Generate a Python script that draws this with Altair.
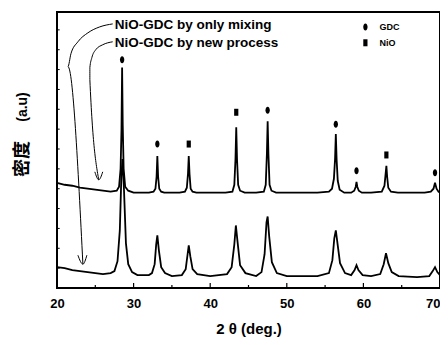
import altair as alt
import pandas as pd

# ---- XRD pattern: NiO-GDC by only mixing (upper trace) ----
upper_x = [20, 21, 22, 23, 24, 25, 26, 27, 27.8, 28.1, 28.3, 28.42, 28.5, 28.58, 28.7, 28.9, 29.3,
           30, 31, 32, 32.6, 32.85, 33.0, 33.1, 33.2, 33.35, 33.6, 34, 35, 36,
           36.7, 36.95, 37.1, 37.2, 37.3, 37.45, 37.7, 38.2, 40, 42,
           42.9, 43.15, 43.3, 43.4, 43.5, 43.65, 43.9, 44.5, 46,
           47.0, 47.25, 47.4, 47.5, 47.6, 47.75, 48.0, 48.6, 50, 52, 54,
           55.5, 55.9, 56.15, 56.3, 56.4, 56.5, 56.65, 56.9, 57.5,
           58.4, 58.8, 59.0, 59.1, 59.2, 59.4, 59.8, 61,
           62.4, 62.75, 62.9, 63.0, 63.1, 63.25, 63.6, 64.5, 66, 68,
           68.8, 69.15, 69.35, 69.55, 69.8, 70]
upper_y = [106, 104, 103, 101, 100, 99, 98, 97, 98, 102, 120, 160, 222, 165, 120, 102, 98,
           96, 96, 96, 97, 100, 112, 133, 112, 100, 97, 96, 96, 96,
           97, 101, 115, 133, 115, 100, 97, 96, 96, 96,
           97, 104, 130, 162, 130, 104, 98, 96, 96,
           97, 104, 135, 168, 135, 104, 98, 96, 96, 96, 96,
           97, 100, 110, 130, 155, 130, 108, 99, 96,
           96, 98, 102, 107, 102, 98, 96, 96,
           97, 103, 115, 123, 112, 101, 97, 96, 96, 96,
           97, 100, 106, 100, 97, 96]

# ---- XRD pattern: NiO-GDC by new process (lower trace) ----
lower_x = [20, 21, 22, 23, 24, 25, 26, 27, 27.5, 27.9, 28.2, 28.4, 28.55, 28.75, 29.0, 29.3, 29.8,
           30.5, 32, 32.4, 32.75, 32.95, 33.1, 33.3, 33.6, 34.1, 35,
           36.3, 36.8, 37.05, 37.2, 37.4, 37.7, 38.3, 40,
           42.2, 42.8, 43.15, 43.35, 43.55, 43.9, 44.6, 46,
           46.7, 47.1, 47.35, 47.5, 47.7, 48.05, 48.7, 50, 54,
           55.5, 55.95, 56.2, 56.4, 56.6, 56.95, 57.6,
           58.4, 58.85, 59.1, 59.35, 59.9, 61,
           62.2, 62.65, 62.95, 63.25, 63.7, 64.6, 67,
           68.6, 69.05, 69.35, 69.65, 70]
lower_y = [21, 20, 18, 17, 16, 15, 14, 15, 17, 27, 58, 112, 130, 98, 45, 24, 16,
           13, 13, 15, 24, 44, 53, 38, 21, 15, 12,
           13, 19, 34, 43, 32, 19, 14, 12,
           14, 21, 44, 63, 48, 23, 15, 12,
           16, 34, 66, 72, 52, 26, 15, 12, 12,
           15, 28, 50, 58, 46, 25, 15,
           13, 18, 23, 18, 13, 12,
           14, 24, 35, 25, 16, 12, 11,
           12, 17, 21, 16, 13]

# ---- phase markers above the upper trace ----
marker_x = [28.5, 33.1, 37.2, 43.4, 47.5, 56.4, 59.1, 63.0, 69.35, 60.26, 60.26]
marker_y = [230, 145, 145, 177, 179, 165, 118, 134, 116, 263, 247]
marker_phase = ["GDC", "GDC", "NiO", "NiO", "GDC", "GDC", "GDC", "NiO", "GDC", "GDC", "NiO"]

# ---- legend-like labels ----
label_text = ["NiO-GDC by only mixing", "NiO-GDC by new process", "GDC", "NiO"]
label_x = [27.53, 27.53, 62.1, 62.1]
label_y = [264.5, 247, 263, 247]
label_size = [13.5, 13.5, 9, 9]

# ---- y-axis title pieces ----
ytitle_text = ["(a.u)", "密度"]

# ---- annotation arrows (curves) ----
arrow1_x = [27.27, 25.58, 24.03, 22.73, 21.82, 21.43, 23.38]
arrow1_y = [266, 263, 257, 248, 236, 223, 24]
head1_x = [22.73, 23.38, 23.90]
head1_y = [33, 24, 33]
arrow2_x = [27.27, 25.97, 25.06, 24.55, 24.29, 24.29, 25.45]
arrow2_y = [248, 245, 240, 232, 222, 210, 109]
head2_x = [24.94, 25.45, 25.97]
head2_y = [117, 109, 117]

x_major = [20, 30, 40, 50, 60, 70]
x_minor = [25, 35, 45, 55, 65]
y_minor = [20, 40, 60, 80, 100, 120, 140, 160, 180, 200, 220, 240, 260]

XMIN, XMAX, YMIN, YMAX = 20, 70, 0, 278

xs = alt.Scale(domain=[XMIN, XMAX], nice=False, zero=False)
ys = alt.Scale(domain=[YMIN, YMAX], nice=False, zero=False)

def path_df(xv, yv, name):
    return pd.DataFrame({"x": xv, "y": yv, "o": list(range(len(xv))), "id": name})

curves = pd.concat([path_df(upper_x, upper_y, "upper"), path_df(lower_x, lower_y, "lower")])
arrows = pd.concat([path_df(arrow1_x, arrow1_y, "a1"), path_df(head1_x, head1_y, "h1"),
                    path_df(arrow2_x, arrow2_y, "a2"), path_df(head2_x, head2_y, "h2")])

x_enc = alt.X("x:Q", scale=xs,
              axis=alt.Axis(values=x_major, format="d", ticks=False, domain=False, grid=False,
                            labelFlush=False,
                            labelAlign=alt.ExprRef("datum.value == 70 ? 'right' : 'center'"),
                            labelPadding=9, labelFontSize=13, labelFontWeight="bold",
                            labelFont="Liberation Sans", labelColor="black",
                            title="2 θ (deg.)", titleFontSize=15, titleFontWeight="bold",
                            titleFont="Liberation Sans", titleColor="black",
                            titleY=45, titleBaseline="alphabetic"))
y_enc = alt.Y("y:Q", scale=ys, axis=None)

lines = alt.Chart(curves).mark_line(color="black", strokeWidth=1.8, interpolate="linear").encode(
    x=x_enc, y=y_enc, detail="id:N", order="o:Q")

arrow_lines = alt.Chart(arrows).mark_line(color="black", strokeWidth=1, interpolate="monotone").encode(
    x=alt.X("x:Q", scale=xs), y=alt.Y("y:Q", scale=ys), detail="id:N", order="o:Q")

oval = "M0,-1 A0.62,1 0 1,1 0,1 A0.62,1 0 1,1 0,-1 Z"
rect = "M-0.6,-1 L0.6,-1 L0.6,1 L-0.6,1 Z"
markers = alt.Chart(pd.DataFrame({"x": marker_x, "y": marker_y, "phase": marker_phase})).mark_point(
    filled=True, color="black", opacity=1, size=49, strokeWidth=0).encode(
    x=alt.X("x:Q", scale=xs), y=alt.Y("y:Q", scale=ys),
    shape=alt.Shape("phase:N", scale=alt.Scale(domain=["GDC", "NiO"], range=[oval, rect]), legend=None))

labels = alt.Chart(pd.DataFrame({"x": label_x, "y": label_y, "t": label_text, "s": label_size})).mark_text(
    align="left", baseline="middle", font="Liberation Sans", fontWeight="bold", color="black").encode(
    x=alt.X("x:Q", scale=xs), y=alt.Y("y:Q", scale=ys), text="t:N",
    size=alt.Size("s:Q", scale=None, legend=None))

# y title: two rotated pieces placed left of the frame
yt_df = pd.DataFrame({"t": ytitle_text})
ytitle_a = alt.Chart(yt_df.iloc[[0]]).mark_text(
    angle=270, align="center", baseline="middle", fontWeight="bold", color="black",
    font="Liberation Sans", fontSize=14).encode(
    x=alt.value(-34), y=alt.value(95), text="t:N")
ytitle_b = alt.Chart(yt_df.iloc[[1]]).mark_text(
    angle=270, align="center", baseline="middle", fontWeight="bold", color="black",
    font="Noto Sans CJK SC", fontSize=18).encode(
    x=alt.value(-34), y=alt.value(147), text="t:N")

tick_df = pd.DataFrame({"x": x_major + x_minor, "y0": [0] * 11, "y1": [5] * 6 + [3] * 5})
xticks = alt.Chart(tick_df).mark_rule(color="black", strokeWidth=1.2).encode(
    x=alt.X("x:Q", scale=xs), y=alt.Y("y0:Q", scale=ys), y2="y1:Q")

ytick_df = pd.DataFrame({"y": y_minor, "x0": [20] * len(y_minor), "x1": [20.35] * len(y_minor)})
yticks = alt.Chart(ytick_df).mark_rule(color="black", strokeWidth=1).encode(
    y=alt.Y("y:Q", scale=ys), x=alt.X("x0:Q", scale=xs), x2="x1:Q")

chart = alt.layer(lines, arrow_lines, markers, labels, ytitle_a, ytitle_b, xticks, yticks).properties(
    width=383, height=276,
    autosize=alt.AutoSizeParams(type="none"),
    padding={"left": 49, "top": 4, "right": 0, "bottom": 49},
    background="white",
).configure_view(stroke="black", strokeWidth=2)

chart.save("out.html", embed_options={"renderer": "svg", "actions": False})
